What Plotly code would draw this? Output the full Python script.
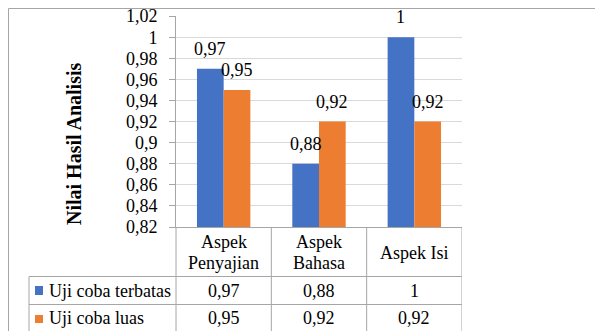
import plotly.graph_objects as go

# ---- data ----
categories = ["Aspek<br>Penyajian", "Aspek<br>Bahasa", "Aspek Isi"]
series_names = ["Uji coba terbatas", "Uji coba luas"]
uji_terbatas = [0.97, 0.88, 1.00]
uji_luas = [0.95, 0.92, 0.92]
tick_values = [0.82, 0.84, 0.86, 0.88, 0.90, 0.92, 0.94, 0.96, 0.98, 1.00, 1.02]
tick_labels = ["0,82", "0,84", "0,86", "0,88", "0,9", "0,92", "0,94", "0,96", "0,98", "1", "1,02"]
y_title = "Nilai Hasil Analisis"

# ---- style ----
OFF = 8  # page body margin
W, H = 603 - OFF, 331 - OFF
colors = ["#4472C4", "#ED7D31"]
FONT = "Liberation Serif"
grid_c = "#d9d9d9"
line_c = "#a6a6a6"
FS = 18

def px(x):
    return (x - OFF) / W

def py(y):
    return 1 - (y - OFF) / H

def fmt(v):
    return f"{v:g}".replace(".", ",")

idx = list(range(len(categories)))
series = [uji_terbatas, uji_luas]

fig = go.Figure()
for name, vals, col in zip(series_names, series, colors):
    fig.add_trace(go.Bar(x=idx, y=[v - 0.82 for v in vals], base=0.82, name=name,
                         marker=dict(color=col, line=dict(width=0)),
                         showlegend=False, hoverinfo="skip"))

plot_l, plot_r, plot_t, plot_b = 176, 462, 16, 227

fig.update_layout(
    width=W, height=H,
    margin=dict(l=0, r=0, t=0, b=0, pad=0, autoexpand=False),
    showlegend=False,
    paper_bgcolor="white", plot_bgcolor="white",
    barmode="group", bargap=0.44, bargroupgap=0,
    font=dict(family=FONT, size=FS, color="#000000"),
    xaxis=dict(domain=[px(plot_l), px(plot_r)], range=[-0.5, 2.5], automargin=False,
               showticklabels=False, showgrid=False, zeroline=False,
               showline=True, linecolor=line_c, linewidth=1, ticks=""),
    yaxis=dict(domain=[py(plot_b), py(plot_t)], range=[0.82, 1.0201], automargin=False,
               tickvals=tick_values, ticktext=tick_labels, ticklabeloverflow="allow",
               ticklabelstandoff=8,
               showgrid=True, gridcolor=grid_c, gridwidth=1, zeroline=False,
               showline=True, linecolor=line_c, linewidth=1,
               ticks="outside", ticklen=6, tickcolor=line_c,
               tickfont=dict(family=FONT, size=FS, color="#000")),
)

annotations = []
shapes = []

def txt(text, x, y, xref="paper", yref="paper", xanchor="center", yanchor="middle", **kw):
    d = dict(x=x, y=y, xref=xref, yref=yref, text=text, showarrow=False,
             xanchor=xanchor, yanchor=yanchor,
             font=kw.pop("font", dict(family=FONT, size=FS, color="#000")))
    d.update(kw)
    annotations.append(d)

# bar value labels
offsets = [-0.14, 0.14]
for vals, off in zip(series, offsets):
    for i, v in zip(idx, vals):
        txt(fmt(v), i + off, v, xref="x", yref="y", yanchor="bottom", yshift=8)

# y-axis title
txt(f"<b>{y_title}</b>", px(74), py(144), textangle=-90,
    font=dict(family=FONT, size=20, color="#000"))

# category labels in table
for i, c in zip(idx, categories):
    lines = c.split("<br>")
    n = len(lines)
    for k, ln in enumerate(lines):
        yc = 252.5 + (k - (n - 1) / 2) * 21
        txt(ln, i, py(yc), xref="x")

# table values
row_y = [291, 318]
for vals, ry in zip(series, row_y):
    for i, v in zip(idx, vals):
        txt(fmt(v), i, py(ry), xref="x")

# legend rows
key_y = [(286, 295), (315, 323)]
for name, col, ry, (ky0, ky1) in zip(series_names, colors, row_y, key_y):
    txt(name, px(47), py(ry), xanchor="left")
    shapes.append(dict(type="rect", xref="paper", yref="paper", x0=px(35), x1=px(43),
                       y0=py(ky1), y1=py(ky0), fillcolor=col, line=dict(width=0)))

def hline(x0, x1, y, xref="paper"):
    shapes.append(dict(type="line", xref=xref, yref="paper", x0=x0, x1=x1, y0=py(y), y1=py(y),
                       line=dict(color=line_c, width=1)))

def vline(x, y0, y1, xref="paper"):
    shapes.append(dict(type="line", xref=xref, yref="paper", x0=x, x1=x, y0=py(y0), y1=py(y1),
                       line=dict(color=line_c, width=1)))

# outer border (as close to the top-left as the page allows)
hline(px(8.5), px(603), 8.5)
vline(px(8.5), 8.5, 331)

# table lines
hline(px(29), px(plot_r), 276.5)
hline(px(29), px(plot_r), 304.5)
vline(px(29), 276.5, 331)
vline(px(plot_l), plot_b, 331)
for b in [0.5, 1.5, 2.5]:
    vline(b, plot_b, 331, xref="x")

fig.update_layout(annotations=annotations, shapes=shapes)
fig.write_html("out.html")
